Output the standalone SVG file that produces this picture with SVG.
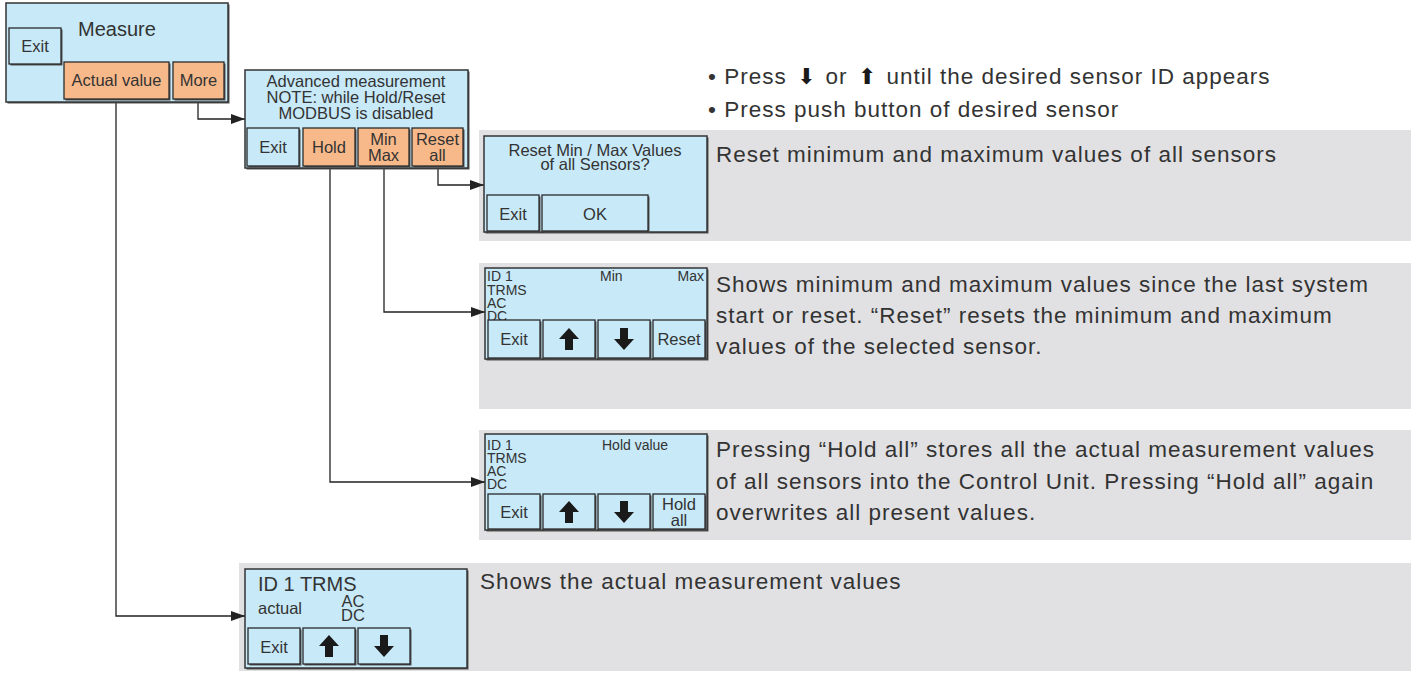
<svg xmlns="http://www.w3.org/2000/svg" width="1411" height="673" viewBox="0 0 1411 673">
<style>
.panel{fill:#e1e1e3}
.box{fill:#c7e9f8;stroke:#333;stroke-width:1.5}
.sh{fill:#555}
.btn{fill:#c7e9f8;stroke:#2a2a2a;stroke-width:1.3}
.obtn{fill:#f8b98a;stroke:#2a2a2a;stroke-width:1.3}
text{font-family:"Liberation Sans",Arial,sans-serif;fill:#333}
.t16{font-size:16.5px}
.t15{font-size:14px}
.t20{font-size:20px}
.desc{font-size:22.5px;letter-spacing:1px}
.mid{text-anchor:middle}
.ar{fill:#1a1a1a}
.conn{fill:none;stroke:#222;stroke-width:1.3}
.ic{font-family:"DejaVu Sans",sans-serif;font-size:22px;fill:#1a1a1a;letter-spacing:0}
</style>
<defs>
<marker id="arr" viewBox="0 0 14 10" refX="14" refY="5" markerWidth="14" markerHeight="10" markerUnits="userSpaceOnUse" orient="auto">
<path d="M0,0 L14,5 L0,10 z" fill="#222"/>
</marker>
<path id="up" d="M0,-11 L10,0 L4,0 L4,11 L-4,11 L-4,0 L-10,0 z"/>
<path id="dn" d="M0,11 L10,0 L4,0 L4,-11 L-4,-11 L-4,0 L-10,0 z"/>
</defs>

<g id="panels">
<rect class="panel" x="479" y="130" width="932" height="111"/>
<rect class="panel" x="479" y="263" width="932" height="146"/>
<rect class="panel" x="479" y="430" width="932" height="110"/>
<rect class="panel" x="239" y="563" width="1172" height="108"/>
</g>

<g id="connectors">
<path class="conn" d="M116,99 V616 H245" marker-end="url(#arr)"/>
<path class="conn" d="M198,99 V119 H245" marker-end="url(#arr)"/>
<path class="conn" d="M438,167 V185 H484" marker-end="url(#arr)"/>
<path class="conn" d="M384,167 V312 H485" marker-end="url(#arr)"/>
<path class="conn" d="M330,167 V482 H485" marker-end="url(#arr)"/>
</g>

<g id="measure">
<rect class="sh" x="7.5" y="4.5" width="222" height="99"/>
<rect class="box" x="6" y="3" width="222" height="99"/>
<text class="t20" x="78" y="36">Measure</text>
<rect class="sh" x="10.5" y="29.5" width="52" height="36"/>
<rect class="btn" x="9" y="28" width="52" height="36"/>
<text class="t16 mid" x="35" y="52">Exit</text>
<rect class="sh" x="65.5" y="63.5" width="105" height="37"/>
<rect class="obtn" x="64" y="62" width="105" height="37"/>
<text class="t16 mid" x="116.5" y="86">Actual value</text>
<rect class="sh" x="174.5" y="63.5" width="51" height="37"/>
<rect class="obtn" x="173" y="62" width="51" height="37"/>
<text class="t16 mid" x="198.5" y="86">More</text>
</g>

<g id="advanced">
<rect class="sh" x="246.5" y="71.5" width="223" height="98"/>
<rect class="box" x="245" y="70" width="223" height="98"/>
<text class="t16 mid" x="356" y="87">Advanced measurement</text>
<text class="t16 mid" x="356" y="103">NOTE: while Hold/Reset</text>
<text class="t16 mid" x="356" y="119">MODBUS is disabled</text>
<rect class="sh" x="248.5" y="129.5" width="52" height="38"/>
<rect class="btn" x="247" y="128" width="52" height="38"/>
<text class="t16 mid" x="273" y="153">Exit</text>
<rect class="sh" x="304.5" y="129.5" width="52" height="38"/>
<rect class="obtn" x="303" y="128" width="52" height="38"/>
<text class="t16 mid" x="329" y="153">Hold</text>
<rect class="sh" x="359.5" y="129.5" width="51" height="38"/>
<rect class="obtn" x="358" y="128" width="51" height="38"/>
<text class="t16 mid" x="383.5" y="145">Min</text>
<text class="t16 mid" x="383.5" y="161">Max</text>
<rect class="sh" x="413.5" y="129.5" width="51" height="38"/>
<rect class="obtn" x="412" y="128" width="51" height="38"/>
<text class="t16 mid" x="437.5" y="145">Reset</text>
<text class="t16 mid" x="437.5" y="161">all</text>
</g>

<g id="bullets">
<text class="desc" x="708" y="84">• Press <tspan class="ic" dx="3">⬇</tspan><tspan dx="3"> or </tspan><tspan class="ic" dx="3">⬆</tspan><tspan dx="3"> until the desired sensor ID appears</tspan></text>
<text class="desc" x="708" y="117">• Press push button of desired sensor</text>
</g>

<g id="reset-box">
<rect class="sh" x="485.5" y="137.5" width="223" height="96"/>
<rect class="box" x="484" y="136" width="223" height="96"/>
<text class="t16 mid" x="595" y="156">Reset Min / Max Values</text>
<text class="t16 mid" x="595" y="170">of all Sensors?</text>
<rect class="sh" x="488.5" y="196.5" width="52" height="36"/>
<rect class="btn" x="487" y="195" width="52" height="36"/>
<text class="t16 mid" x="513" y="220">Exit</text>
<rect class="sh" x="543.5" y="196.5" width="106" height="36"/>
<rect class="btn" x="542" y="195" width="106" height="36"/>
<text class="t16 mid" x="595" y="220">OK</text>
<text class="desc" x="716" y="162">Reset minimum and maximum values of all sensors</text>
</g>

<g id="minmax-box">
<rect class="sh" x="486.5" y="269.5" width="222" height="91"/>
<rect class="box" x="485" y="268" width="222" height="91"/>
<text class="t15" x="487" y="281">ID 1</text>
<text class="t15" x="487" y="294.5">TRMS</text>
<text class="t15" x="487" y="308">AC</text>
<text class="t15" x="487" y="321">DC</text>
<text class="t15" x="600" y="281">Min</text>
<text class="t15" x="704" y="281" text-anchor="end">Max</text>
<rect class="sh" x="489.5" y="321.5" width="52" height="38"/>
<rect class="btn" x="488" y="320" width="52" height="38"/>
<text class="t16 mid" x="514" y="345">Exit</text>
<rect class="sh" x="544.5" y="321.5" width="52" height="38"/>
<rect class="btn" x="543" y="320" width="52" height="38"/>
<use href="#up" class="ar" x="569" y="339"/>
<rect class="sh" x="599.5" y="321.5" width="52" height="38"/>
<rect class="btn" x="598" y="320" width="52" height="38"/>
<use href="#dn" class="ar" x="624" y="339"/>
<rect class="sh" x="654.5" y="321.5" width="52" height="38"/>
<rect class="btn" x="653" y="320" width="52" height="38"/>
<text class="t16 mid" x="679" y="345">Reset</text>
<text class="desc" x="716" y="292">Shows minimum and maximum values since the last system</text>
<text class="desc" x="716" y="323">start or reset. “Reset” resets the minimum and maximum</text>
<text class="desc" x="716" y="354">values of the selected sensor.</text>
</g>

<g id="hold-box">
<rect class="sh" x="486.5" y="435.5" width="222" height="96"/>
<rect class="box" x="485" y="434" width="222" height="96"/>
<text class="t15" x="487" y="450">ID 1</text>
<text class="t15" x="487" y="463">TRMS</text>
<text class="t15" x="487" y="476">AC</text>
<text class="t15" x="487" y="489">DC</text>
<text class="t15" x="602" y="450">Hold value</text>
<rect class="sh" x="489.5" y="495.5" width="52" height="35"/>
<rect class="btn" x="488" y="494" width="52" height="35"/>
<text class="t16 mid" x="514" y="518">Exit</text>
<rect class="sh" x="544.5" y="495.5" width="52" height="35"/>
<rect class="btn" x="543" y="494" width="52" height="35"/>
<use href="#up" class="ar" x="569" y="512"/>
<rect class="sh" x="599.5" y="495.5" width="52" height="35"/>
<rect class="btn" x="598" y="494" width="52" height="35"/>
<use href="#dn" class="ar" x="624" y="512"/>
<rect class="sh" x="654.5" y="495.5" width="52" height="35"/>
<rect class="btn" x="653" y="494" width="52" height="35"/>
<text class="t16 mid" x="679" y="510">Hold</text>
<text class="t16 mid" x="679" y="526">all</text>
<text class="desc" x="716" y="457">Pressing “Hold all” stores all the actual measurement values</text>
<text class="desc" x="716" y="489">of all sensors into the Control Unit. Pressing “Hold all” again</text>
<text class="desc" x="716" y="520">overwrites all present values.</text>
</g>

<g id="actual-box">
<rect class="sh" x="246.5" y="570.5" width="222" height="99"/>
<rect class="box" x="245" y="569" width="222" height="99"/>
<text class="t20" x="258" y="591">ID 1 TRMS</text>
<text class="t16" x="258" y="614">actual</text>
<text class="t16 mid" x="353" y="607">AC</text>
<text class="t16 mid" x="353" y="621">DC</text>
<rect class="sh" x="249.5" y="629.5" width="52" height="36"/>
<rect class="btn" x="248" y="628" width="52" height="36"/>
<text class="t16 mid" x="274" y="653">Exit</text>
<rect class="sh" x="304.5" y="629.5" width="52" height="36"/>
<rect class="btn" x="303" y="628" width="52" height="36"/>
<use href="#up" class="ar" x="329" y="646"/>
<rect class="sh" x="359.5" y="629.5" width="52" height="36"/>
<rect class="btn" x="358" y="628" width="52" height="36"/>
<use href="#dn" class="ar" x="384" y="646"/>
<text class="desc" x="480" y="589">Shows the actual measurement values</text>
</g>
</svg>
